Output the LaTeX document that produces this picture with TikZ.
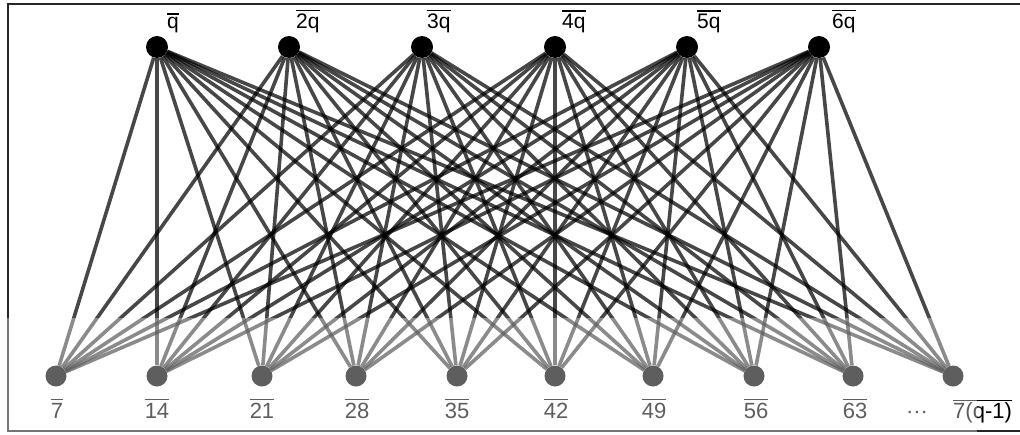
\documentclass[tikz,border=0pt]{standalone}
\usepackage{fontspec}
\setmainfont{Liberation Sans}
\begin{document}
\begin{tikzpicture}[x=1pt,y=-1pt,
  topv/.style={circle,fill=black,inner sep=0pt,minimum size=22pt},
  botv/.style={circle,fill=black,inner sep=0pt,minimum size=21pt},
  edge/.style={line width=3.6pt,draw=black,draw opacity=0.72},
  toplab/.style={inner sep=0pt,anchor=base west,font=\fontsize{21}{25}\selectfont},
  botlab/.style={inner sep=0pt,anchor=base,font=\fontsize{22}{26}\selectfont},
  bar/.style={line width=1.5pt},
  framel/.style={line width=2pt,draw=black!85},
  fade/.style={fill=white,opacity=0.37}]
\useasboundingbox (0,0) rectangle (1020,434);
% frame
\coordinate (f1) at (8,4);
\coordinate (f2) at (1020,4);
\coordinate (f3) at (8,431);
\coordinate (f4) at (1020,431);
\draw[framel] (f2) -- (f1) -- (f3) -- (f4);
% vertices
\foreach \i/\x in {1/157,2/289,3/422,4/555,5/687,6/819}
  \node[topv] (t\i) at (\x,47) {};
\foreach \j/\x in {1/56,2/157,3/262,4/356,5/457,6/555,7/653,8/754,9/853,10/953}
  \node[botv] (b\j) at (\x,376) {};
% edges (complete bipartite)
\foreach \i in {1,...,6}
  \foreach \j in {1,...,10}
    \draw[edge] (t\i) -- (b\j);
% top labels
\node[toplab] (lt1) at (167,28.5) {q};
\node[toplab] (lt2) at (296,28.5) {2q};
\node[toplab] (lt3) at (427,28.5) {3q};
\node[toplab] (lt4) at (562,28.5) {4q};
\node[toplab] (lt5) at (697,28.5) {5q};
\node[toplab] (lt6) at (832,28.5) {6q};
\foreach \i in {1,...,6}
  \draw[bar] ([yshift=3pt]lt\i.north west) -- ([yshift=3pt]lt\i.north east);
% bottom labels
\foreach \j/\x/\t in {1/57/7,2/157/14,3/262/21,4/357/28,5/457/35,6/556/42,7/654/49,8/756/56,9/855/63}
  \node[botlab] (lb\j) at (\x,418) {\t};
\node[botlab,anchor=base west] (lb10) at (953,418) {7(q-1)};
\node[botlab] (dots) at (917,418) {···};
\foreach \j in {1,...,9}
  \draw[bar] ([yshift=3pt]lb\j.north west) -- ([yshift=3pt]lb\j.north east);
\draw[bar] ([yshift=1.5pt]lb10.north west) -- ([yshift=1.5pt]lb10.north east);
% faded lower band (watermark overlay)
\fill[fade] (0,318) rectangle (977,434);
\end{tikzpicture}
\end{document}
